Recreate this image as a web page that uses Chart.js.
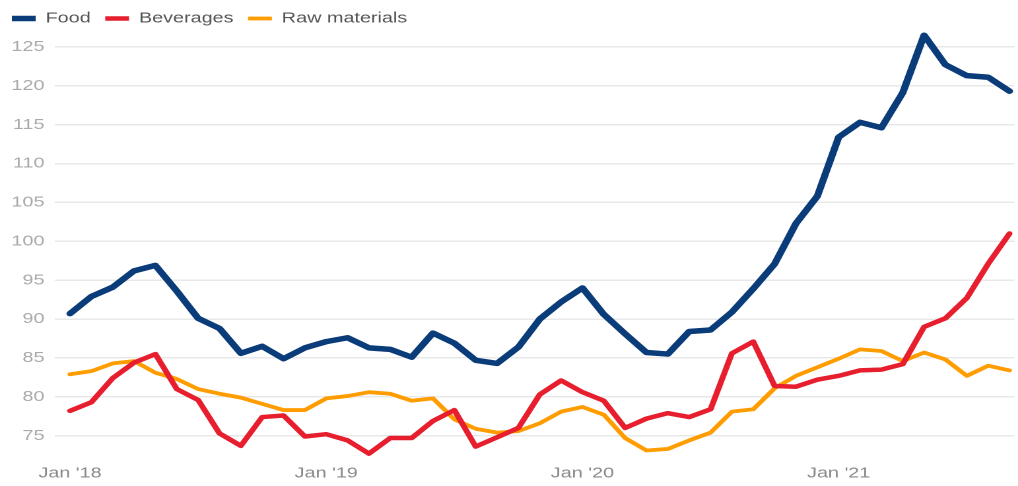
<!DOCTYPE html>
<html>
<head>
<meta charset="utf-8">
<script src="https://cdn.jsdelivr.net/npm/chart.js@4.4.1/dist/chart.umd.min.js"></script>
<style>
  html, body { margin: 0; padding: 0; background: #fff; overflow: hidden; }
  /* the original is drawn narrow and stretched sideways */
  #wrap { width: 771px; height: 486px; transform: scaleX(1.3204); transform-origin: 0 0; }
</style>
</head>
<body>
<div id="wrap"><canvas id="chart"></canvas></div>
<script>
// ─── DATA ────────────────────────────────────────────────────────────────
const months = [
  "Jan '18","Feb '18","Mar '18","Apr '18","May '18","Jun '18","Jul '18","Aug '18","Sep '18","Oct '18","Nov '18","Dec '18",
  "Jan '19","Feb '19","Mar '19","Apr '19","May '19","Jun '19","Jul '19","Aug '19","Sep '19","Oct '19","Nov '19","Dec '19",
  "Jan '20","Feb '20","Mar '20","Apr '20","May '20","Jun '20","Jul '20","Aug '20","Sep '20","Oct '20","Nov '20","Dec '20",
  "Jan '21","Feb '21","Mar '21","Apr '21","May '21","Jun '21","Jul '21","Aug '21","Sep '21"
];
const xTicks = [0, 12, 24, 36];

const food = [90.7, 92.9, 94.1, 96.2, 96.9, 93.6, 90.1, 88.8, 85.6, 86.5, 84.9, 86.3,
              87.1, 87.6, 86.3, 86.1, 85.1, 88.2, 86.9, 84.7, 84.3, 86.4, 90.0, 92.2,
              94.0, 90.6, 88.1, 85.7, 85.5, 88.4, 88.6, 90.9, 93.9, 97.1, 102.3, 105.8,
              113.4, 115.3, 114.6, 119.1, 126.5, 122.7, 121.3, 121.1, 119.3];
const beverages = [78.2, 79.3, 82.4, 84.4, 85.5, 81.0, 79.6, 75.3, 73.7, 77.4, 77.6, 74.9,
                   75.2, 74.4, 72.7, 74.7, 74.7, 76.9, 78.3, 73.6, 74.8, 76.0, 80.3, 82.1,
                   80.6, 79.5, 76.0, 77.2, 77.9, 77.4, 78.4, 85.6, 87.1, 81.4, 81.3, 82.2,
                   82.7, 83.4, 83.5, 84.2, 89.0, 90.1, 92.7, 97.1, 101.0];
const rawMaterials = [82.9, 83.3, 84.3, 84.6, 83.1, 82.3, 81.0, 80.4, 79.9, 79.1, 78.3, 78.3,
                      79.8, 80.1, 80.6, 80.4, 79.5, 79.8, 77.1, 75.9, 75.4, 75.6, 76.6, 78.1,
                      78.7, 77.7, 74.7, 73.1, 73.3, 74.4, 75.4, 78.1, 78.4, 81.1, 82.7, 83.8,
                      84.9, 86.1, 85.9, 84.6, 85.7, 84.8, 82.7, 84.0, 83.4];

const series = [
  { label: 'Food',          values: food,         color: '#0b3c7a', width: 5.5 },
  { label: 'Beverages',     values: beverages,    color: '#e61e2e', width: 4.5 },
  { label: 'Raw materials', values: rawMaterials, color: '#ff9c00', width: 3.8 },
];

Chart.defaults.font.family = "'Liberation Sans', Arial, sans-serif";
Chart.defaults.font.size = 15;

new Chart(document.getElementById('chart'), {
  type: 'line',
  data: {
    datasets: series.map(s => ({
      label: s.label,
      data: s.values.map((v, i) => ({ x: i, y: v })),
      borderColor: s.color,
      backgroundColor: s.color,
      borderWidth: s.width,
      borderCapStyle: 'round',
      borderJoinStyle: 'round',
      pointRadius: 0,
      tension: 0,
      clip: false
    }))
  },
  options: {
    responsive: true, maintainAspectRatio: false, animation: false,
    devicePixelRatio: 2,
    layout: { padding: { left: -2, right: 0, top: 0, bottom: -3.5 } },
    plugins: {
      tooltip: { enabled: false },
      legend: {
        position: 'top', align: 'start',
        labels: { usePointStyle: true, pointStyle: 'line', pointStyleWidth: 18, padding: 11, color: '#555', font: { size: 15 } }
      }
    },
    scales: {
      x: {
        type: 'linear', min: -0.7, max: 44.23,
        afterBuildTicks: s => { s.ticks = xTicks.map(v => ({ value: v })); },
        ticks: { callback: v => months[v], color: '#8a8a8a', padding: 7, maxRotation: 0, autoSkip: false },
        grid: { display: false, drawTicks: false },
        border: { display: false }
      },
      y: {
        min: 72.2, max: 126.4,
        afterFit: s => { s.width = 43.7; },
        ticks: { stepSize: 5, includeBounds: false, color: '#aaa', padding: 8 },
        grid: { color: '#e8e8e8', lineWidth: 1.5, drawTicks: false },
        border: { display: false }
      }
    }
  }
});
</script>
</body>
</html>
